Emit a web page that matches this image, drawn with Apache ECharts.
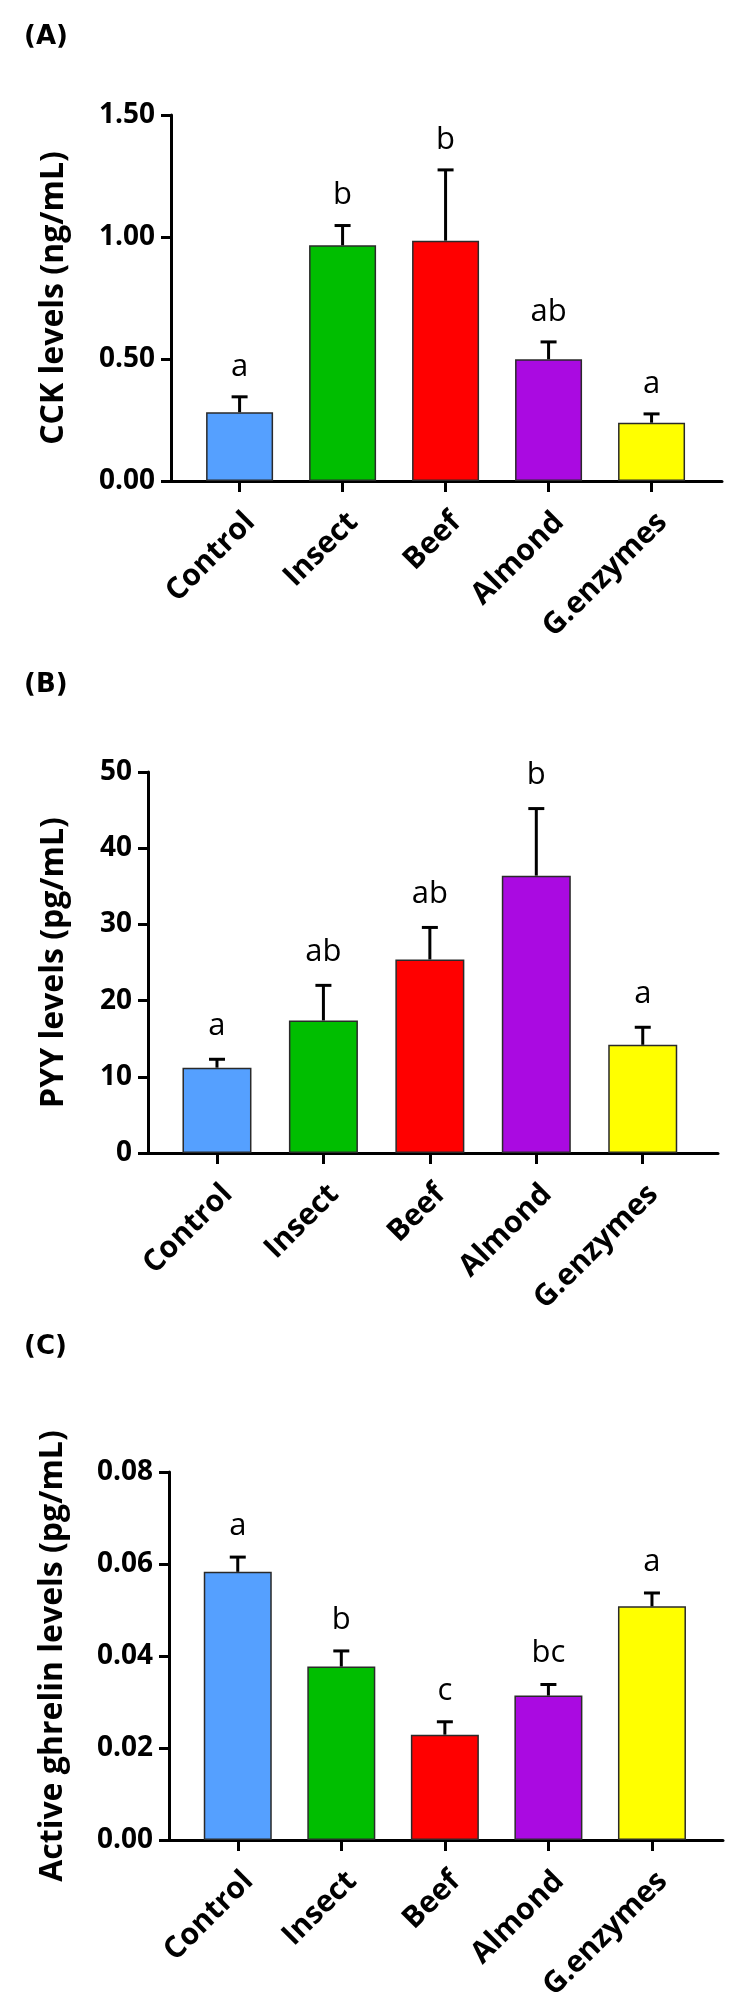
<!DOCTYPE html>
<html>
<head>
<meta charset="utf-8">
<script src="https://cdn.jsdelivr.net/npm/echarts@6/dist/echarts.min.js"></script>
<style>
html,body{margin:0;padding:0;background:#fff;}
#chart{width:745px;height:2006px;}
</style>
</head>
<body>
<div id="chart"></div>
<script>
// ---- data ----
const categories = ['Control', 'Insect', 'Beef', 'Almond', 'G.enzymes'];
const barColors = ['#55A0FF', '#00BE00', '#FF0000', '#AA0AE1', '#FFFF00'];

const cckMean = [0.282, 0.966, 0.985, 0.499, 0.239];
const cckSem = [0.063, 0.081, 0.290, 0.071, 0.036];
const cckLetters = ['a', 'b', 'b', 'ab', 'a'];
const cckTicks = ['0.00', '0.50', '1.00', '1.50'];

const pyyMean = [11.2, 17.4, 25.4, 36.4, 14.2];
const pyySem = [1.1, 4.6, 4.2, 8.8, 2.3];
const pyyLetters = ['a', 'ab', 'ab', 'b', 'a'];
const pyyTicks = ['0', '10', '20', '30', '40', '50'];

const ghrMean = [0.0583, 0.0377, 0.0229, 0.0314, 0.0508];
const ghrSem = [0.0032, 0.0034, 0.0028, 0.0024, 0.0029];
const ghrLetters = ['a', 'b', 'c', 'bc', 'a'];
const ghrTicks = ['0.00', '0.02', '0.04', '0.06', '0.08'];

// ---- chart ----
const chart = echarts.init(document.getElementById('chart'), null, {renderer: 'canvas'});
const AX = '#000';
const tickFont = {fontFamily: 'Open Sans', fontWeight: 'bold', fontSize: 28, color: '#000'};
const catIdx = categories.map((c, i) => i);

const panels = [
  {mean: cckMean, sem: cckSem, letters: cckLetters, ticks: cckTicks, yMax: 1.5, yInt: 0.5,
   grid: {left: 171, top: 115, width: 551, height: 366}, xMin: -0.666, xMax: 4.684,
   name: 'CCK levels (ng/mL)', nameGap: 101, barWidth: 67, gap: 30, tag: '(A)', tagTop: 24},
  {mean: pyyMean, sem: pyySem, letters: pyyLetters, ticks: pyyTicks, yMax: 50, yInt: 10,
   grid: {left: 148, top: 772, width: 570, height: 381}, xMin: -0.648, xMax: 4.707,
   name: 'PYY levels (pg/mL)', nameGap: 78, barWidth: 69, gap: 33, tag: '(B)', tagTop: 672},
  {mean: ghrMean, sem: ghrSem, letters: ghrLetters, ticks: ghrTicks, yMax: 0.08, yInt: 0.02,
   grid: {left: 169, top: 1472, width: 554, height: 368}, xMin: -0.664, xMax: 4.686,
   name: 'Active ghrelin levels (pg/mL)', nameGap: 100, barWidth: 68, gap: 31, tag: '(C)', tagTop: 1334}
];

const option = {
  animation: false,
  backgroundColor: '#fff',
  title: panels.map(p => ({
    text: p.tag, left: 24, top: p.tagTop, padding: 0,
    textStyle: {fontFamily: 'DejaVu Sans', fontWeight: 'bold', fontSize: 26, color: '#000'}
  })),
  grid: panels.map(p => Object.assign({containLabel: false}, p.grid)),
  xAxis: panels.map((p, k) => ({
    type: 'value', gridIndex: k, min: p.xMin, max: p.xMax,
    splitLine: {show: false},
    axisLine: {show: true, onZero: false, lineStyle: {color: AX, width: 3}},
    axisTick: {show: true, customValues: catIdx, length: 11, lineStyle: {color: AX, width: 3}},
    axisLabel: {
      show: true, customValues: catIdx, rotate: 45, margin: 26,
      align: 'right', verticalAlign: 'top',
      formatter: v => categories[Math.round(v)],
      fontFamily: 'Open Sans', fontWeight: 'bold', fontSize: 30, color: '#000'
    }
  })),
  yAxis: panels.map((p, k) => ({
    type: 'value', gridIndex: k, min: 0, max: p.yMax, interval: p.yInt,
    name: p.name, nameLocation: 'middle', nameGap: p.nameGap,
    nameTextStyle: {fontFamily: 'Open Sans', fontWeight: 'bold', fontSize: 32, color: '#000'},
    splitLine: {show: false},
    axisLine: {show: true, onZero: false, lineStyle: {color: AX, width: 3}},
    axisTick: {show: true, length: 10, lineStyle: {color: AX, width: 3}},
    axisLabel: Object.assign({margin: 16, formatter: (v) => {
      const i = Math.round(v / p.yInt); return p.ticks[i];
    }}, tickFont)
  })),
  series: []
};

panels.forEach((p, k) => {
  option.series.push({
    type: 'bar', xAxisIndex: k, yAxisIndex: k, barWidth: p.barWidth,
    data: p.mean.map((m, i) => ({
      value: [i, m],
      itemStyle: {color: barColors[i], borderColor: '#2a2a2a', borderWidth: 1.5}
    })),
    z: 2
  });
  option.series.push({
    type: 'custom', xAxisIndex: k, yAxisIndex: k, z: 3,
    data: p.mean.map((m, i) => [i, m, p.sem[i]]),
    renderItem: (params, api) => {
      const x = api.value(0), m = api.value(1), s = api.value(2);
      const base = api.coord([x, m]);
      const top = api.coord([x, m + s]);
      const cap = 8;
      return {
        type: 'group',
        children: [
          {type: 'line', shape: {x1: base[0], y1: base[1], x2: top[0], y2: top[1]},
           style: {stroke: '#000', lineWidth: 3}},
          {type: 'line', shape: {x1: top[0] - cap, y1: top[1], x2: top[0] + cap, y2: top[1]},
           style: {stroke: '#000', lineWidth: 3}},
          {type: 'text', x: top[0], y: top[1] - p.gap,
           style: {text: p.letters[params.dataIndex], fontFamily: 'Open Sans', fontSize: 31,
                   fill: '#000', align: 'center', verticalAlign: 'middle'}}
        ]
      };
    }
  });
});

chart.setOption(option);
</script>
</body>
</html>
